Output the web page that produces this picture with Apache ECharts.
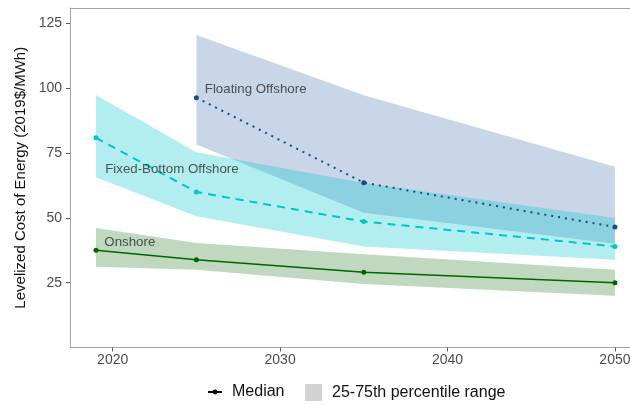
<!DOCTYPE html>
<html>
<head>
<meta charset="utf-8">
<script src="https://cdn.jsdelivr.net/npm/echarts@6.0.0/dist/echarts.min.js"></script>
<style>html,body{margin:0;padding:0;background:#fff}#c{width:630px;height:405px}</style>
</head>
<body>
<div id="c"></div>
<script>
// ---- data ----
const yearsLand = [2019, 2025, 2035, 2050];
const yearsFloat = [2025, 2035, 2050];
const onshoreMedian = [37.5, 33.9, 29.0, 25.0];
const onshoreLow = [31.2, 30.0, 24.5, 20.0];
const onshoreHigh = [46.1, 40.3, 36.0, 30.0];
const fixedMedian = [80.9, 60.0, 48.6, 39.0];
const fixedLow = [65.7, 50.6, 39.0, 33.9];
const fixedHigh = [97.4, 75.3, 63.5, 50.0];
const floatMedian = [96.4, 63.6, 46.5];
const floatLow = [78.3, 52.0, 40.0];
const floatHigh = [120.6, 97.3, 69.7];
const xTicks = [2020, 2030, 2040, 2050];
const yTicks = [25, 50, 75, 100, 125];
const labelAnchors = [
  [2025.5, 99.8, 'Floating Offshore'],
  [2019.55, 68.7, 'Fixed-Bottom Offshore'],
  [2019.5, 40.6, 'Onshore']
];

const FONT = 'Liberation Sans, Arial, sans-serif';
const pairs = (xs, ys) => xs.map((x, i) => [x, ys[i]]);

function band(xs, lo, hi, color) {
  return {
    type: 'custom', silent: true, z: 1, clip: true,
    data: xs.map((x, i) => [x, lo[i], hi[i]]),
    encode: { x: 0, y: [1, 2] },
    renderItem: function (params, api) {
      if (params.dataIndex !== 0) return null;
      const top = xs.map((x, i) => api.coord([x, hi[i]]));
      const bottom = xs.map((x, i) => api.coord([x, lo[i]])).reverse();
      return { type: 'polygon', shape: { points: top.concat(bottom) }, style: { fill: color } };
    }
  };
}
function median(xs, ys, color, type, width) {
  return { type: 'line', data: pairs(xs, ys), symbol: 'circle', symbolSize: 5, showSymbol: true,
    itemStyle: { color: color }, lineStyle: { color: color, type: type, width: width, cap: 'butt' }, z: 3, silent: true };
}

const X_MIN = 2017.45, X_MAX = 2050.9;
const chart = echarts.init(document.getElementById('c'), null, { renderer: 'canvas' });
chart.setOption({
  animation: false,
  textStyle: { fontFamily: FONT },
  grid: { left: 70, right: 0, top: 8, bottom: 57.5, show: false, containLabel: false, outerBoundsMode: 'none' },
  xAxis: [{
    type: 'value', min: X_MIN, max: X_MAX,
    axisLine: { show: true, lineStyle: { color: '#a6a6a6', width: 1 } },
    axisTick: { show: true, length: 4, lineStyle: { color: '#555' }, customValues: xTicks },
    axisLabel: { color: '#4d4d4d', fontSize: 14, margin: 6, fontFamily: FONT, customValues: xTicks,
      formatter: v => String(v), hideOverlap: false },
    splitLine: { show: false }
  }, {
    type: 'value', position: 'top', min: X_MIN, max: X_MAX,
    axisLine: { show: true, lineStyle: { color: '#a6a6a6', width: 1 } },
    axisTick: { show: false }, axisLabel: { show: false }, splitLine: { show: false }
  }],
  yAxis: {
    type: 'value', min: 0, max: 131,
    name: 'Levelized Cost of Energy (2019$/MWh)', nameLocation: 'middle', nameGap: 42, nameMoveOverlap: false,
    nameTextStyle: { color: '#111', fontSize: 15, fontFamily: FONT },
    axisLine: { show: true, lineStyle: { color: '#a6a6a6', width: 1 } },
    axisTick: { show: true, length: 4, lineStyle: { color: '#555' }, customValues: yTicks },
    axisLabel: { color: '#4d4d4d', fontSize: 14, margin: 8, fontFamily: FONT, customValues: yTicks },
    splitLine: { show: false }
  },
  legend: [
    { data: ['Median'], left: 207, top: 384, padding: 0, itemWidth: 14, itemHeight: 6, selectedMode: false,
      textStyle: { fontSize: 16, color: '#111', fontFamily: FONT, padding: [0, 0, 0, 5] } },
    { data: ['25-75th percentile range'], left: 305, top: 384, padding: 0, itemWidth: 17, itemHeight: 17, icon: 'rect',
      selectedMode: false, itemStyle: { color: '#d3d3d3' },
      textStyle: { fontSize: 16, color: '#111', fontFamily: FONT, padding: [0, 0, 0, 5] } }
  ],
  series: [
    band(yearsFloat, floatLow, floatHigh, 'rgba(25,85,160,0.24)'),
    band(yearsLand, fixedLow, fixedHigh, 'rgba(0,200,205,0.30)'),
    band(yearsLand, onshoreLow, onshoreHigh, 'rgba(0,100,0,0.25)'),
    median(yearsFloat, floatMedian, '#104E8B', [2, 5], 2),
    median(yearsLand, fixedMedian, '#00C5CD', [8, 6], 2),
    median(yearsLand, onshoreMedian, '#006400', 'solid', 1.5),
    { type: 'scatter', data: labelAnchors, symbolSize: 0, silent: true, z: 4,
      label: { show: true, position: 'right', distance: 0, formatter: p => p.value[2],
        color: '#2b2b2b', fontSize: 13.3, fontFamily: FONT } },
    { name: 'Median', type: 'line', data: [], symbol: 'circle', symbolSize: 5,
      itemStyle: { color: '#000' }, lineStyle: { color: '#000', width: 2 } },
    { name: '25-75th percentile range', type: 'line', data: [], itemStyle: { color: '#d3d3d3' } }
  ]
});
</script>
</body>
</html>
